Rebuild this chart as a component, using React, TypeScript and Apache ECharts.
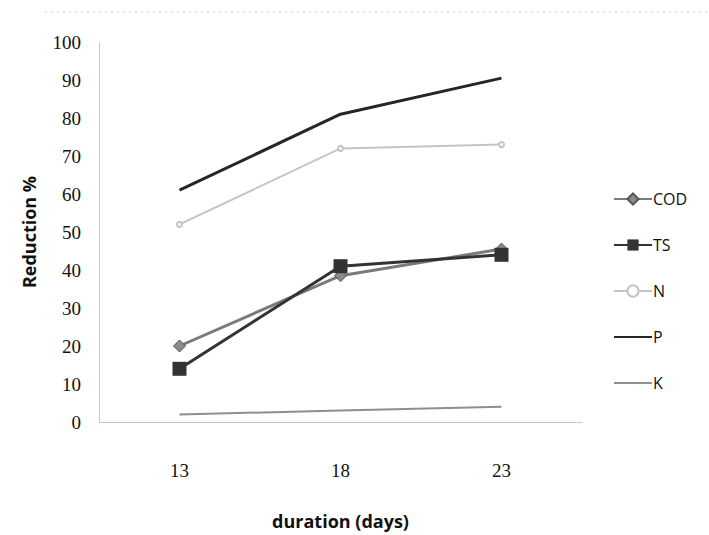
import React, { useEffect, useRef } from "react";
import * as echarts from "echarts";

const categories = ["13", "18", "23"];
const codValues = [20, 38.5, 45.5];
const tsValues = [14, 41, 44];
const nValues = [52, 72, 73];
const pValues = [61, 81, 90.5];
const kValues = [2, 3, 4];
const yTicks = { min: 0, max: 100, interval: 10 };

export default function App() {
  const ref = useRef<HTMLDivElement>(null);
  useEffect(() => {
    if (!ref.current) return;
    document.body.style.margin = "0";
    const chart = echarts.init(ref.current, null, { renderer: "svg" });
    const serifFont = "Liberation Serif";
    const sansFont = "Open Sans";
    chart.setOption({
      animation: false,
      backgroundColor: "#ffffff",
      grid: { left: 99, right: 127, top: 42, bottom: 110 },
      legend: {
        orient: "vertical",
        left: 608,
        top: 186,
        itemWidth: 38,
        itemHeight: 14,
        itemGap: 30,
        textStyle: { fontFamily: sansFont, fontSize: 16, color: "#111", padding: [0, 0, 0, -4] },
        data: [
          "COD",
          "TS",
          "N",
          { name: "P", itemStyle: { opacity: 0 } },
          { name: "K", itemStyle: { opacity: 0 } },
        ],
      },
      xAxis: {
        type: "category",
        data: categories,
        boundaryGap: true,
        axisLine: { lineStyle: { color: "#bbb", type: "dotted", width: 1 } },
        axisTick: { show: false },
        axisLabel: { margin: 39, fontFamily: serifFont, fontSize: 19, color: "#111" },
        name: "duration (days)",
        nameLocation: "middle",
        nameGap: 90,
        nameTextStyle: { fontFamily: sansFont, fontSize: 18, fontWeight: "bold", color: "#111" },
      },
      yAxis: {
        type: "value",
        min: yTicks.min,
        max: yTicks.max,
        interval: yTicks.interval,
        splitLine: { show: false },
        axisLine: { show: true, lineStyle: { color: "#bbb", type: "dotted", width: 1 } },
        axisTick: { show: false },
        axisLabel: { margin: 18, fontFamily: serifFont, fontSize: 19, color: "#111" },
        name: "Reduction %",
        nameLocation: "middle",
        nameGap: 61,
        nameTextStyle: { fontFamily: sansFont, fontSize: 18, fontWeight: "bold", color: "#111" },
      },
      series: [
        {
          name: "COD",
          type: "line",
          data: codValues,
          symbol: "diamond",
          symbolSize: 12,
          lineStyle: { color: "#7a7a7a", width: 3 },
          itemStyle: { color: "#8a8a8a", borderColor: "#555", borderWidth: 1 },
        },
        {
          name: "TS",
          type: "line",
          data: tsValues,
          symbol: "rect",
          symbolSize: 14,
          lineStyle: { color: "#333", width: 3 },
          itemStyle: { color: "#333" },
        },
        {
          name: "N",
          type: "line",
          data: nValues,
          symbol: "emptyCircle",
          symbolSize: 5,
          lineStyle: { color: "#c4c4c4", width: 2 },
          itemStyle: { color: "#c4c4c4" },
        },
        {
          name: "P",
          type: "line",
          data: pValues,
          symbol: "none",
          lineStyle: { color: "#262626", width: 3 },
          itemStyle: { color: "#262626" },
        },
        {
          name: "K",
          type: "line",
          data: kValues,
          symbol: "none",
          lineStyle: { color: "#8f8f8f", width: 2 },
          itemStyle: { color: "#8f8f8f" },
        },
      ],
      graphic: [
        {
          type: "line",
          shape: { x1: 45, y1: 12, x2: 709, y2: 12 },
          style: { stroke: "#cfcfcf", lineWidth: 1, lineDash: [2, 4] },
        },
      ],
    });
    return () => chart.dispose();
  }, []);
  return <div ref={ref} style={{ width: 709, height: 535 }} />;
}
